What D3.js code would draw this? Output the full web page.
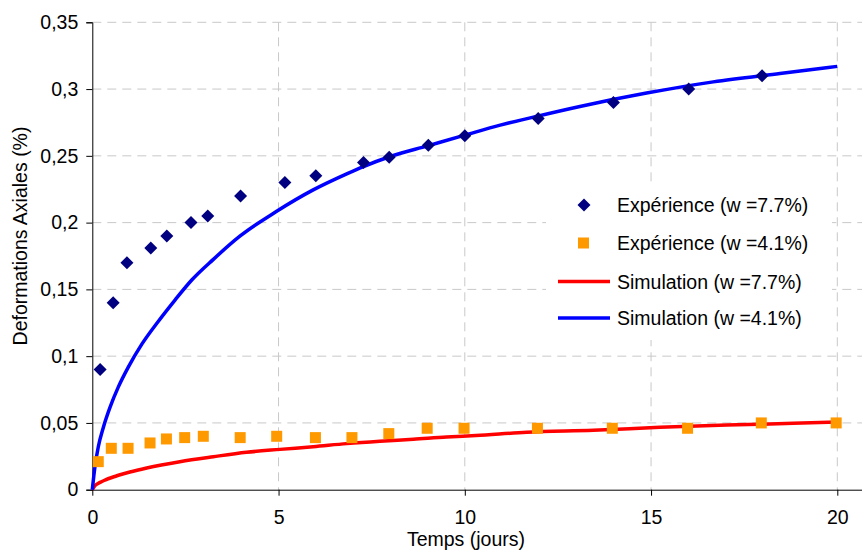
<!DOCTYPE html>
<html lang="fr">

<head>
    <meta charset="UTF-8" />
    <title>Deformations axiales</title>
    <style>
        body {
            margin: 0;
            background: #fff;
        }

        text {
            font-family: "Liberation Sans", Arial, sans-serif;
            fill: #000;
        }
    </style>
</head>

<body>
    <div id="container"></div>
</body>
<script src="https://cdnjs.cloudflare.com/ajax/libs/d3/7.8.5/d3.min.js"></script>
<script>
    // données
    let expTime77 = [0.21, 0.56, 0.93, 1.57, 2.0, 2.65, 3.1, 3.98, 5.17, 6.0, 7.28, 7.97, 9.02, 10.0, 11.97, 13.99, 16.01, 17.98]
    let expVal77 = [0.09, 0.14, 0.17, 0.181, 0.19, 0.2, 0.205, 0.22, 0.23, 0.235, 0.245, 0.249, 0.258, 0.265, 0.278, 0.29, 0.3, 0.31]

    let expTime41 = [0.16, 0.51, 0.96, 1.55, 1.99, 2.48, 2.98, 3.97, 4.95, 5.99, 6.97, 7.96, 8.99, 9.98, 11.95, 13.96, 15.98, 17.96, 19.97]
    let expVal41 = [0.021, 0.031, 0.031, 0.035, 0.038, 0.039, 0.04, 0.039, 0.04, 0.039, 0.039, 0.042, 0.046, 0.046, 0.046, 0.046, 0.046, 0.05, 0.05]

    let simTime77 = [0, 0.07, 0.21, 0.34, 0.56, 0.7, 1.01, 1.46, 2.35, 3.25, 4.14, 5.04, 5.93, 6.83, 7.72, 8.62, 9.51, 10.3, 11.66, 13.45, 15.24, 17.03, 18.82, 20]
    let simVal77 = [0, 0.003, 0.0055, 0.0072, 0.0095, 0.0108, 0.0133, 0.0163, 0.021, 0.0247, 0.028, 0.0302, 0.0322, 0.0345, 0.0363, 0.0378, 0.0395, 0.0406, 0.043, 0.0445, 0.0467, 0.0484, 0.0497, 0.0507]

    let simTime41 = [0, 0.07, 0.16, 0.3, 0.48, 0.7, 0.97, 1.33, 1.77, 2.22, 2.67, 3.25, 3.97, 4.95, 5.93, 6.83, 7.28, 8.0, 9.0, 10.0, 10.95, 11.84, 13.09, 14.88, 16.67, 18.46, 20]
    let simVal41 = [0, 0.017, 0.032, 0.047, 0.062, 0.077, 0.092, 0.109, 0.126, 0.142, 0.157, 0.1725, 0.19, 0.2085, 0.2245, 0.2365, 0.242, 0.2495, 0.2575, 0.2655, 0.273, 0.279, 0.287, 0.297, 0.3054, 0.3117, 0.317]

    let xTicks = [0, 5, 10, 15, 20]
    let yTicks = [0, 0.05, 0.1, 0.15, 0.2, 0.25, 0.3, 0.35]
    let legendLabels = ['Expérience (w =7.7%)', 'Expérience (w =4.1%)', 'Simulation (w =7.7%)', 'Simulation (w =4.1%)']

    let width = 867, height = 550
    let mLeft = 92.3, mRight = 862, mTop = 22.3, mBottom = 489.7

    let x = d3.scaleLinear().domain([0, 20]).range([mLeft, 837.3])
    let y = d3.scaleLinear().domain([0, 0.35]).range([mBottom, mTop])
    let fmt = d => String(d).replace('.', ',')

    let svg = d3.select('#container').append('svg').attr('width', width).attr('height', height)

    // grille
    svg.append('g').selectAll('line').data(yTicks.slice(1)).enter().append('line')
        .attr('x1', mLeft).attr('x2', mRight)
        .attr('y1', d => y(d)).attr('y2', d => y(d))
        .attr('stroke', '#c8c8c8').attr('stroke-dasharray', '9,6')
    svg.append('g').selectAll('line').data(xTicks.slice(1)).enter().append('line')
        .attr('x1', d => x(d)).attr('x2', d => x(d))
        .attr('y1', mTop).attr('y2', mBottom)
        .attr('stroke', '#c8c8c8').attr('stroke-dasharray', '9,6')

    // axes
    let xAxis = svg.append('g').attr('transform', `translate(0,${mBottom})`)
        .call(d3.axisBottom(x).tickValues(xTicks).tickSize(6).tickPadding(14).tickFormat(d => d))
    xAxis.select('.domain').attr('d', `M${mLeft},0.5H${mRight}`)
    let yAxis = svg.append('g').attr('transform', `translate(${mLeft},0)`)
        .call(d3.axisLeft(y).tickValues(yTicks).tickSize(6).tickPadding(8).tickFormat(fmt))
    svg.selectAll('.tick text').style('font-size', '19.5px').attr('font-family', null)
    svg.selectAll('.domain, .tick line').attr('stroke', '#000')

    // courbes de simulation
    let line = d3.line().x(d => x(d[0])).y(d => y(d[1])).curve(d3.curveMonotoneX)
    svg.append('path').datum(d3.zip(simTime77, simVal77)).attr('d', line)
        .attr('fill', 'none').attr('stroke', '#ff0000').attr('stroke-width', 3.5)
    svg.append('path').datum(d3.zip(simTime41, simVal41)).attr('d', line)
        .attr('fill', 'none').attr('stroke', '#0000ff').attr('stroke-width', 3.5)

    // points expérimentaux
    let diamond = 'M0,-6.5L6.5,0L0,6.5L-6.5,0Z'
    svg.append('g').selectAll('path').data(d3.zip(expTime77, expVal77)).enter().append('path')
        .attr('d', diamond).attr('fill', '#000080')
        .attr('transform', d => `translate(${x(d[0])},${y(d[1])})`)
    svg.append('g').selectAll('rect').data(d3.zip(expTime41, expVal41)).enter().append('rect')
        .attr('x', d => x(d[0]) - 5.5).attr('y', d => y(d[1]) - 5.5)
        .attr('width', 11).attr('height', 11).attr('fill', '#ff9900')

    // légende
    let lg = svg.append('g')
    lg.append('rect').attr('x', 546).attr('y', 182).attr('width', 286).attr('height', 158).attr('fill', '#fff')
    let rows = [205, 243, 281.5, 318]
    lg.append('path').attr('d', diamond).attr('fill', '#000080').attr('transform', `translate(584,${rows[0]})`)
    lg.append('rect').attr('x', 578).attr('y', rows[1] - 5.5).attr('width', 11).attr('height', 11).attr('fill', '#ff9900')
    lg.append('line').attr('x1', 558).attr('x2', 610).attr('y1', rows[2]).attr('y2', rows[2])
        .attr('stroke', '#ff0000').attr('stroke-width', 3.5)
    lg.append('line').attr('x1', 558).attr('x2', 610).attr('y1', rows[3]).attr('y2', rows[3])
        .attr('stroke', '#0000ff').attr('stroke-width', 3.5)
    lg.selectAll('text.lab').data(legendLabels).enter().append('text')
        .attr('x', 617).attr('y', (d, i) => rows[i] + 7)
        .style('font-size', '19.5px').text(d => d)

    // titres des axes
    svg.append('text').attr('x', 466).attr('y', 545.5).attr('text-anchor', 'middle')
        .style('font-size', '19.5px').text('Temps (jours)')
    svg.append('text').attr('transform', 'translate(27,236) rotate(-90)').attr('text-anchor', 'middle')
        .style('font-size', '19.5px').text('Deformations Axiales (%)')
</script>

</html>
